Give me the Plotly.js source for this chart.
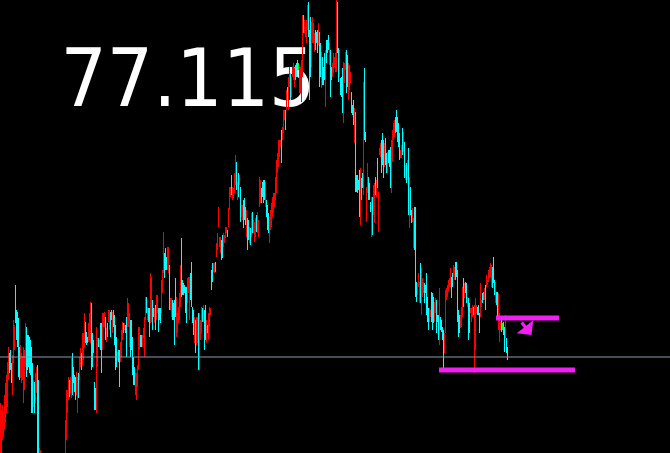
<!DOCTYPE html>
<html>
<head>
<meta charset="utf-8">
<script src="https://cdn.plot.ly/plotly-3.0.1.min.js"></script>
<style>html,body{margin:0;padding:0;background:#000;}#chart{width:670px;height:453px;}</style>
</head>
<body>
<div id="chart"></div>
<script>
// Bar highs (price)
const highs = [
77.069,77.062,77.067,77.060,77.077,77.089,77.097,77.110,77.125,77.119,
77.122,77.109,77.117,77.152,77.147,77.187,77.162,77.160,77.154,77.125,
77.127,77.119,77.116,77.125,77.122,77.149,77.145,77.137,77.137,77.135,
77.132,77.125,77.109,77.092,77.090,77.099,77.105,77.107,77.092,77.024,
77.022,77.010,77.005,76.998,76.990,76.985,76.992,76.980,76.972,76.978,
76.968,76.960,76.970,76.975,76.982,76.978,76.988,76.995,76.990,77.000,
77.008,77.005,77.012,77.015,77.018,77.052,77.082,77.082,77.095,77.092,
77.095,77.114,77.119,77.105,77.097,77.095,77.100,77.095,77.099,77.115,
77.124,77.119,77.139,77.139,77.159,77.150,77.140,77.135,77.149,77.159,
77.170,77.169,77.139,77.132,77.090,77.084,77.145,77.134,77.134,77.132,
77.149,77.149,77.159,77.159,77.160,77.155,77.144,77.149,77.162,77.162,
77.160,77.162,77.160,77.162,77.157,77.147,77.135,77.120,77.122,77.122,
77.130,77.142,77.150,77.149,77.149,77.147,77.155,77.174,77.169,77.159,
77.152,77.152,77.135,77.115,77.105,77.099,77.099,77.107,77.145,77.145,
77.137,77.137,77.137,77.144,77.155,77.175,77.175,77.165,77.164,77.164,
77.199,77.195,77.172,77.164,77.164,77.167,77.177,77.177,77.164,77.164,
77.164,77.192,77.202,77.240,77.219,77.224,77.215,77.225,77.225,77.207,
77.174,77.174,77.172,77.169,77.172,77.194,77.175,77.159,77.165,77.179,
77.207,77.234,77.192,77.189,77.187,77.185,77.185,77.194,77.195,77.195,
77.199,77.210,77.165,77.162,77.155,77.152,77.155,77.155,77.159,77.159,
77.152,77.165,77.164,77.167,77.162,77.167,77.152,77.147,77.159,77.165,
77.164,77.202,77.209,77.209,77.209,77.210,77.229,77.239,77.265,77.235,
77.235,77.232,77.237,77.239,77.237,77.245,77.245,77.242,77.264,77.285,
77.285,77.297,77.285,77.284,77.299,77.317,77.310,77.290,77.299,77.297,
77.285,77.267,77.267,77.272,77.274,77.265,77.262,77.254,77.252,77.245,
77.244,77.259,77.260,77.252,77.250,77.254,77.257,77.260,77.252,77.295,
77.292,77.284,77.290,77.292,77.292,77.290,77.272,77.267,77.259,77.255,
77.262,77.269,77.275,77.279,77.279,77.295,77.312,77.319,77.332,77.332,
77.332,77.342,77.345,77.362,77.362,77.362,77.382,77.385,77.395,77.405,
77.399,77.395,77.405,77.409,77.404,77.407,77.409,77.412,77.409,77.405,
77.405,77.412,77.457,77.457,77.452,77.445,77.452,77.467,77.470,77.442,
77.455,77.450,77.455,77.449,77.439,77.442,77.440,77.442,77.449,77.440,
77.429,77.420,77.415,77.405,77.419,77.422,77.432,77.432,77.437,77.429,
77.422,77.405,77.409,77.419,77.415,77.419,77.472,77.470,77.424,77.422,
77.394,77.395,77.404,77.410,77.409,77.420,77.422,77.417,77.409,77.407,
77.400,77.380,77.367,77.372,77.364,77.360,77.297,77.297,77.292,77.302,
77.304,77.294,77.299,77.390,77.404,77.340,77.285,77.309,77.295,77.289,
77.270,77.275,77.275,77.287,77.289,77.295,77.292,77.314,77.280,77.324,
77.329,77.332,77.339,77.332,77.329,77.334,77.319,77.320,77.322,77.322,
77.325,77.332,77.342,77.349,77.352,77.355,77.362,77.355,77.349,77.339,
77.322,77.327,77.344,77.340,77.330,77.307,77.309,77.312,77.324,77.295,
77.285,77.262,77.264,77.254,77.265,77.265,77.190,77.189,77.199,77.190,
77.209,77.204,77.194,77.190,77.189,77.187,77.199,77.175,77.164,77.164,
77.162,77.180,77.179,77.175,77.170,77.174,77.172,77.157,77.157,77.184,
77.155,77.152,77.145,77.142,77.139,77.182,77.184,77.187,77.192,77.194,
77.204,77.195,77.199,77.207,77.205,77.210,77.210,77.202,77.162,77.157,
77.157,77.165,77.185,77.194,77.189,77.190,77.189,77.175,77.174,77.169,
77.164,77.164,77.167,77.165,77.167,77.174,77.167,77.165,77.167,77.159,
77.189,77.172,77.179,77.180,77.184,77.187,77.197,77.192,77.202,77.205,
77.209,77.207,77.205,77.215,77.192,77.190,77.180,77.180,77.179,77.159,
77.150,77.152,77.149,77.150,77.145,77.157,77.134,77.125
];
// Bar lows (price)
const lows = [
77.002,77.012,77.032,77.035,77.042,77.049,77.059,77.065,77.092,77.099,
77.102,77.089,77.077,77.109,77.122,77.149,77.132,77.125,77.095,77.092,
77.094,77.089,77.092,77.069,77.082,77.105,77.095,77.102,77.105,77.099,
77.097,77.059,77.059,77.065,77.059,77.069,77.079,77.002,77.002,76.997,
76.992,76.985,76.978,76.970,76.962,76.955,76.968,76.950,76.945,76.958,
76.940,76.938,76.948,76.952,76.960,76.955,76.962,76.972,76.968,76.975,
76.985,76.990,76.992,76.995,77.000,77.012,77.032,77.059,77.072,77.075,
77.079,77.074,77.077,77.089,77.080,77.072,77.077,77.059,77.074,77.092,
77.105,77.102,77.107,77.112,77.125,77.129,77.127,77.129,77.130,77.132,
77.129,77.102,77.105,77.119,77.062,77.062,77.059,77.105,77.125,77.125,
77.122,77.099,77.122,77.145,77.145,77.132,77.130,77.135,77.150,77.142,
77.135,77.152,77.139,77.145,77.127,77.102,77.105,77.112,77.110,77.085,
77.110,77.115,77.132,77.139,77.142,77.139,77.115,77.145,77.145,77.125,
77.115,77.122,77.097,77.087,77.087,77.077,77.072,77.085,77.102,77.122,
77.125,77.125,77.125,77.134,77.115,77.152,77.159,77.152,77.150,77.135,
77.149,77.150,77.142,77.155,77.149,77.142,77.152,77.159,77.140,77.152,
77.149,77.159,77.179,77.199,77.194,77.202,77.202,77.202,77.199,77.162,
77.162,77.155,77.152,77.152,77.127,77.155,77.135,77.139,77.149,77.152,
77.165,77.175,77.177,77.177,77.179,77.159,77.149,77.169,77.179,77.152,
77.172,77.165,77.149,77.137,77.129,77.119,77.127,77.129,77.102,77.102,
77.132,77.139,77.150,77.150,77.122,77.132,77.129,77.139,77.132,77.145,
77.157,77.182,77.190,77.200,77.199,77.200,77.215,77.222,77.245,77.225,
77.219,77.212,77.214,77.225,77.229,77.234,77.239,77.235,77.245,77.262,
77.275,77.277,77.272,77.274,77.279,77.287,77.282,77.272,77.275,77.287,
77.250,77.255,77.252,77.244,77.252,77.247,77.235,77.222,77.232,77.229,
77.227,77.235,77.239,77.239,77.230,77.235,77.240,77.239,77.235,77.265,
77.269,77.269,77.275,77.269,77.272,77.265,77.255,77.242,77.239,77.229,
77.242,77.245,77.255,77.259,77.265,77.272,77.279,77.299,77.305,77.315,
77.325,77.309,77.332,77.339,77.352,77.342,77.362,77.372,77.362,77.385,
77.372,77.375,77.395,77.392,77.385,77.392,77.395,77.402,77.402,77.379,
77.379,77.370,77.395,77.439,77.439,77.435,77.429,77.442,77.435,77.372,
77.395,77.405,77.429,77.429,77.420,77.422,77.429,77.419,77.427,77.385,
77.395,77.384,77.387,77.387,77.392,77.365,77.409,77.419,77.422,77.407,
77.375,77.392,77.395,77.399,77.405,77.400,77.400,77.419,77.390,77.395,
77.377,77.375,77.359,77.349,77.389,77.402,77.379,77.385,77.372,77.382,
77.389,77.359,77.357,77.347,77.329,77.280,77.280,77.279,77.282,77.255,
77.247,77.272,77.284,77.277,77.332,77.330,77.250,77.279,77.272,77.272,
77.260,77.235,77.237,77.257,77.249,77.277,77.275,77.284,77.240,77.317,
77.315,77.299,77.307,77.294,77.305,77.307,77.299,77.299,77.309,77.305,
77.284,77.279,77.310,77.332,77.335,77.339,77.340,77.330,77.325,77.312,
77.314,77.314,77.317,77.320,77.294,77.292,77.289,77.292,77.257,77.244,
77.257,77.249,77.250,77.224,77.222,77.175,77.170,77.177,77.185,77.169,
77.169,77.157,77.175,77.179,77.169,77.179,77.157,77.150,77.142,77.150,
77.155,77.150,77.142,77.149,77.150,77.159,77.139,77.150,77.132,77.127,
77.142,77.140,77.132,77.104,77.119,77.139,77.172,77.175,77.180,77.185,
77.185,77.174,77.185,77.195,77.192,77.192,77.195,77.150,77.135,77.139,
77.144,77.145,77.155,77.165,77.174,77.179,77.169,77.165,77.132,77.139,
77.159,77.150,77.155,77.157,77.099,77.122,77.159,77.157,77.157,77.139,
77.155,77.165,77.169,77.172,77.172,77.162,77.185,77.187,77.190,77.194,
77.195,77.185,77.184,77.189,77.177,77.169,77.167,77.155,77.142,77.130,
77.142,77.140,77.142,77.137,77.120,77.134,77.119,77.112
];
// Bar direction: r = down (red), c = up (cyan), g = neutral (green)
const directions = (
"rrrrrrrrrc ccrrrccccc rrrrrrcccc cccrcrrccr rrcrrcrcrr " +
"ccrcrrcrcr crrcrrrrrc rrccccrrcr rcrrrcccrr rcccccrrcr " +
"ccrrrcrcrr ccrccccrcc rrrcrccrrr cccccrrrrr ccrrrrcrcc " +
"rrccrcrrcc crrrcccrrc rrccccrrrr rccccccrrr ccccrcrrcr " +
"rrcrccrcrr rccrrcrrrr rccrrrrcrr rcrrrrcrcr crrcccrccr " +
"crcrrrcrrr rccccrcccr rrrrrrrrrr rcrrrcrcrr crrrrcccgr " +
"rrrcrrrrcc crrrrcccrc crcccrcccr ccrrrrrccr cccrrrccrr " +
"rcccrccccc rccrccrrcc crcrrcrcrr rcccrccrcc crrrrccccc " +
"rrcrcrcrcr ccrrcccrrr crrrcccccr rcccrrcccr ccccrrrrrr " +
"rccrrccccc rrrcrccrcc rrrcrrrccc rrcgrcrrrr rrcccrccrr rcgccrcc"
).replace(/\s+/g, "");
const currentPrice = 77.115;
const priceLabel = "77.115";
const levelUpper = {price: 77.154, from: 495.5, to: 558.5};
const levelLower = {price: 77.102, from: 438.5, to: 574.5};

const palette = {r: "#ff0000", c: "#00ffff", g: "#00ff00"};
const traces = ["r", "c", "g"].map(k => {
  const xs = [], ys = [], bs = [];
  for (let i = 0; i < highs.length; i++) {
    if (directions[i] === k) { xs.push(i); ys.push(highs[i] - lows[i]); bs.push(lows[i]); }
  }
  return {type: "bar", x: xs, y: ys, base: bs, width: 1.6,
          marker: {color: palette[k], line: {width: 0}}, hoverinfo: "skip", showlegend: false};
});

const W = 670, H = 453;
const layout = {
  width: W, height: H,
  margin: {l: 0, r: 0, t: 0, b: 0, pad: 0},
  paper_bgcolor: "#000000", plot_bgcolor: "#000000",
  barmode: "overlay", bargap: 0,
  showlegend: false,
  xaxis: {range: [-0.5, W - 0.5], visible: false, fixedrange: true},
  yaxis: {range: [77.019, 77.472], visible: false, fixedrange: true},
  shapes: [
    {type: "rect", xref: "x", yref: "y", layer: "below",
     x0: 57, x1: 299.5, y0: 77.363, y1: 77.437,
     line: {width: 0}, fillcolor: "rgba(0,0,0,0)",
     label: {text: priceLabel, textposition: "middle left", padding: 0,
             font: {family: "DejaVu Sans Condensed, DejaVu Sans, sans-serif", size: 81, color: "#ffffff"}}},
    {type: "line", xref: "paper", yref: "y", x0: 0, x1: 1, y0: currentPrice, y1: currentPrice,
     line: {color: "#8c9ab0", width: 1}, layer: "above"},
    {type: "line", xref: "x", yref: "y", x0: levelUpper.from, x1: levelUpper.to, y0: levelUpper.price, y1: levelUpper.price,
     line: {color: "#f020f0", width: 5}, layer: "above"},
    {type: "line", xref: "x", yref: "y", x0: levelLower.from, x1: levelLower.to, y0: levelLower.price, y1: levelLower.price,
     line: {color: "#f020f0", width: 5}, layer: "above"}
  ],
  annotations: [
    {x: 531, y: 77.137, xref: "x", yref: "y", text: "", showarrow: true, arrowside: "end",
     axref: "pixel", ayref: "pixel", ax: -11, ay: -14, arrowhead: 1, arrowsize: 1.1, arrowwidth: 3.2, arrowcolor: "#f020f0"}
  ]
};
Plotly.newPlot("chart", traces, layout, {displayModeBar: false, staticPlot: true});
</script>
</body>
</html>
